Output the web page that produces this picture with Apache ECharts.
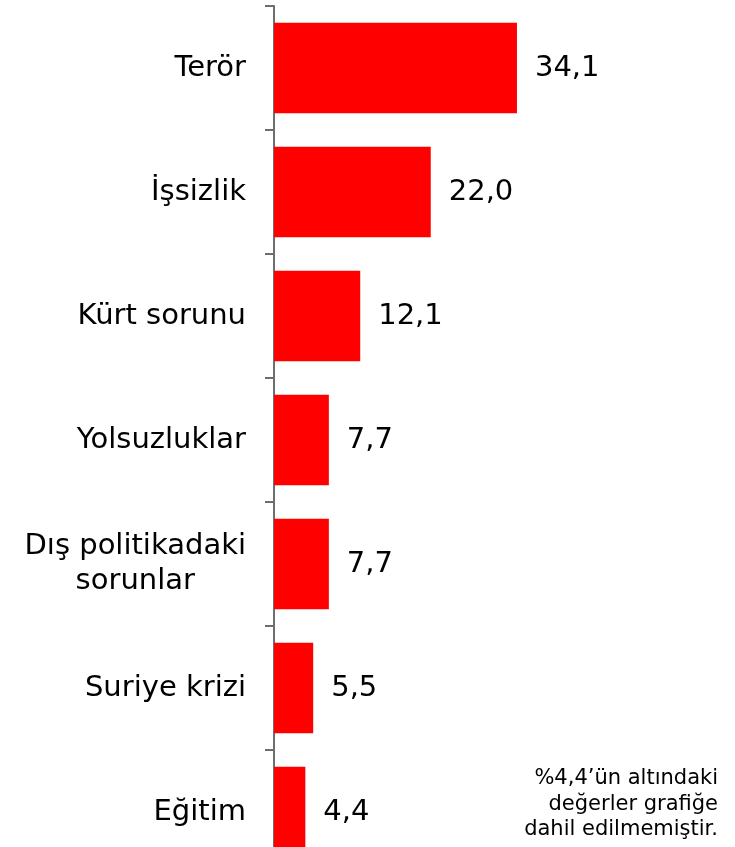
<!DOCTYPE html>
<html>
<head>
<meta charset="utf-8">
<script src="https://cdn.jsdelivr.net/npm/echarts@6/dist/echarts.min.js"></script>
<style>
  html, body { margin: 0; padding: 0; background: #fff; overflow: hidden; }
  #chart { width: 735px; height: 900px; }
</style>
</head>
<body>
<div id="chart"></div>
<script>
// sorunlar ve yüzdeleri
var categories = ['Terör', 'İşsizlik', 'Kürt sorunu', 'Yolsuzluklar', 'Dış politikadaki\nsorunlar', 'Suriye krizi', 'Eğitim'];
var values = [34.1, 22.0, 12.1, 7.7, 7.7, 5.5, 4.4];
var note = '%4,4’ün altındaki\ndeğerler grafiğe\ndahil edilmemiştir.';

var font = 'Verdana, "DejaVu Sans", sans-serif';
var chart = echarts.init(document.getElementById('chart'));

var option = {
  animation: false,
  grid: { left: 274, top: 6, width: 285, height: 868 },
  xAxis: {
    type: 'value',
    min: 0,
    max: 40,
    show: false
  },
  yAxis: {
    type: 'category',
    inverse: true,
    data: categories,
    axisLine: { show: true, lineStyle: { color: '#6e6e6e', width: 2 } },
    axisTick: { show: true, length: 9, lineStyle: { color: '#6e6e6e', width: 2 } },
    axisLabel: {
      margin: 28,
      fontFamily: font,
      fontSize: 29,
      color: '#000',
      lineHeight: 35,
      formatter: function (v) {
        return v.split('\n').map(function (s) { return '{a|' + s + '}'; }).join('\n');
      },
      rich: {
        a: { align: 'center', fontFamily: font, fontSize: 29, lineHeight: 35, color: '#000' }
      }
    }
  },
  series: [{
    type: 'bar',
    data: values,
    barCategoryGap: '27%',
    itemStyle: { color: '#ff0000' },
    label: {
      show: true,
      position: 'right',
      distance: 18,
      fontFamily: font,
      fontSize: 29,
      color: '#000',
      formatter: function (p) { return p.value.toFixed(1).replace('.', ','); }
    }
  }],
  graphic: [{
    type: 'text',
    x: 718,
    y: 766,
    style: {
      text: note,
      fontFamily: font,
      fontSize: 21,
      lineHeight: 25.5,
      align: 'right',
      verticalAlign: 'top',
      fill: '#000'
    }
  }]
};
chart.setOption(option);
</script>
</body>
</html>
